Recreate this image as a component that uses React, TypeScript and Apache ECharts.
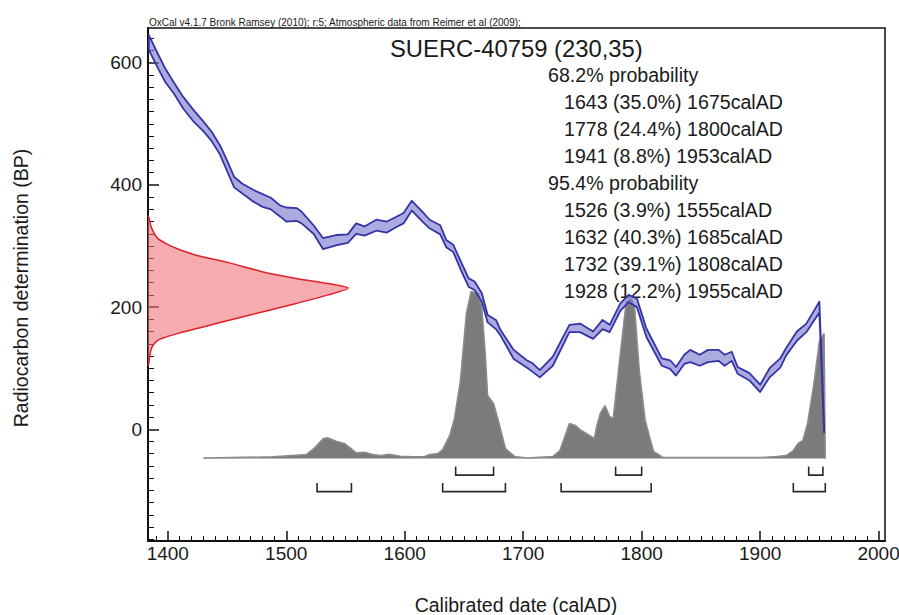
import React, { useEffect, useRef } from "react";
import * as echarts from "echarts";

const FONT = '"Liberation Sans", Arial, Helvetica, sans-serif';
const TEXT = "#1a1a1a";

// ---- axes ----
const X_MIN = 1383.3;
const X_MAX = 2005.4;
const Y_MIN = -182.8;
const Y_MAX = 656.8;
const xMajorTicks = [1400, 1500, 1600, 1700, 1800, 1900, 2000];
const xMinorTicks = [1390, 1410, 1420, 1430, 1440, 1450, 1460, 1470, 1480, 1490, 1510, 1520, 1530, 1540, 1550, 1560, 1570, 1580, 1590, 1610, 1620, 1630, 1640, 1650, 1660, 1670, 1680, 1690, 1710, 1720, 1730, 1740, 1750, 1760, 1770, 1780, 1790, 1810, 1820, 1830, 1840, 1850, 1860, 1870, 1880, 1890, 1910, 1920, 1930, 1940, 1950, 1960, 1970, 1980, 1990];
const yMajorTicks = [0, 200, 400, 600];
const yMinorTicks = [-180, -160, -140, -120, -100, -80, -60, -40, -20, 20, 40, 60, 80, 100, 120, 140, 160, 180, 220, 240, 260, 280, 300, 320, 340, 360, 380, 420, 440, 460, 480, 500, 520, 540, 560, 580, 620, 640];

// ---- calibration curve (1 sigma band, BP) ----
const curveYears = [1384, 1392, 1398, 1405, 1413, 1422, 1430, 1437, 1444, 1450, 1456, 1463, 1472, 1480, 1487, 1495, 1500, 1509, 1513, 1523, 1531, 1542, 1552, 1559, 1566, 1576, 1585, 1593, 1599, 1606, 1615, 1621, 1630, 1635, 1641, 1648, 1654, 1659, 1665, 1670, 1677, 1681, 1692, 1703, 1708, 1714, 1725, 1739, 1748, 1759, 1767, 1773, 1782, 1789, 1796, 1804, 1817, 1824, 1829, 1836, 1841, 1849, 1856, 1865, 1870, 1876, 1881, 1891, 1900, 1908, 1917, 1922, 1931, 1939, 1950, 1954];
const curveUpper = [645, 613, 590, 568, 544, 522, 504, 487, 465, 440, 413, 402, 392, 385, 379, 366, 363, 362, 356, 334, 313, 318, 319, 337, 332, 343, 340, 348, 354, 374, 356, 343, 334, 310, 302, 272, 247, 242, 223, 187, 179, 162, 130, 113, 108, 97, 119, 171, 173, 160, 179, 171, 206, 220, 214, 165, 116, 113, 102, 122, 130, 122, 130, 130, 122, 127, 102, 92, 73, 100, 116, 133, 160, 173, 209, 5];
const curveLower = [621, 590, 568, 550, 525, 503, 488, 472, 450, 423, 396, 386, 373, 364, 360, 348, 340, 341, 337, 320, 295, 301, 305, 320, 317, 325, 322, 331, 337, 358, 340, 329, 319, 298, 290, 258, 233, 228, 209, 175, 164, 153, 115, 101, 94, 85, 104, 159, 159, 148, 164, 159, 194, 208, 200, 151, 104, 99, 88, 107, 110, 104, 110, 112, 104, 112, 91, 80, 61, 85, 101, 121, 145, 159, 191, -5];

// ---- calibrated probability distribution (relative, peak = 100) ----
const probYears = [1430, 1489, 1517, 1524, 1531, 1535, 1542, 1549, 1554, 1559, 1566, 1573, 1580, 1587, 1596, 1607, 1616, 1621, 1628, 1632, 1638, 1642, 1647, 1652, 1656, 1662, 1665, 1668, 1670, 1675, 1679, 1685, 1693, 1703, 1725, 1731, 1739, 1744, 1749, 1756, 1760, 1762, 1765, 1769, 1773, 1776, 1782, 1787, 1791, 1794, 1798, 1803, 1810, 1818, 1860, 1900, 1914, 1922, 1928, 1932, 1936, 1940, 1945, 1950, 1954, 1955];
const probValues = [0.3, 1, 2.4, 6.4, 11.8, 12.4, 10.4, 9, 6.4, 3.4, 3.8, 2.4, 1.8, 2.6, 1.4, 1, 1, 2.4, 3, 5.4, 13.8, 24, 46.7, 86.8, 100, 98.8, 91, 62.9, 37.7, 32.9, 22.8, 6, 1.2, 0.3, 1.2, 4.8, 21, 19.8, 16.8, 13.8, 12, 19.2, 26.9, 31.7, 25.1, 24, 62.9, 94, 95.8, 91, 52.7, 22.8, 4.2, 0.6, 0.6, 0.6, 1.2, 1.8, 4.8, 9, 10.8, 21, 43.1, 70.1, 74.9, 0];

// ---- radiocarbon determination (BP vs relative density, peak = 100) ----
const redBP = [350, 345, 333, 321, 312, 304, 295, 285, 272, 258, 247, 239, 231, 220, 206, 192, 179, 168, 157, 150, 146, 138, 130, 118, 108, 104];
const redDensity = [0, 0.6, 1.4, 3, 5, 9, 15, 24, 41, 57, 74, 89, 100, 90, 74, 57, 41, 28, 15, 8, 5, 2.6, 1.5, 0.8, 0.4, 0];

// ---- ranges ----
const range68 = [[1643, 1675], [1778, 1800], [1941, 1953]];
const pct68 = [35.0, 24.4, 8.8];
const range95 = [[1526, 1555], [1632, 1685], [1732, 1808], [1928, 1955]];
const pct95 = [3.9, 40.3, 39.1, 12.2];

const headerText = "OxCal v4.1.7 Bronk Ramsey (2010); r:5; Atmospheric data from Reimer et al (2009);";
const titleText = "SUERC-40759 (230,35)";
const xTitle = "Calibrated date (calAD)";
const yTitle = "Radiocarbon determination (BP)";

function rangeLine(r: number[], p: number) {
  return `${r[0]} (${p.toFixed(1)}%) ${r[1]}calAD`;
}

export default function App() {
  const ref = useRef<HTMLDivElement>(null);
  useEffect(() => {
    if (!ref.current) return;
    const chart = echarts.init(ref.current, null, { renderer: "svg" });

    const lines: { text: string; indent: boolean }[] = [];
    lines.push({ text: "68.2% probability", indent: false });
    range68.forEach((r, i) => lines.push({ text: rangeLine(r, pct68[i]), indent: true }));
    lines.push({ text: "95.4% probability", indent: false });
    range95.forEach((r, i) => lines.push({ text: rangeLine(r, pct95[i]), indent: true }));

    const textEls: any[] = lines.map((l, i) => ({
      type: "text",
      x: l.indent ? 564 : 548,
      y: 74.5 + i * 27.0,
      style: {
        text: l.text, fontSize: 19.6, fontFamily: FONT, fill: TEXT,
        textAlign: "left", textVerticalAlign: "middle", align: "left", verticalAlign: "middle",
      },
    }));

    const bracketData = range68.map((r) => [r[0], r[1], 0]).concat(range95.map((r) => [r[0], r[1], 1]));

    const minorAxisCommon = { axisLabel: { show: false }, splitLine: { show: false } };

    const option: any = {
      animation: false,
      backgroundColor: "#ffffff",
      grid: {
        left: 148, top: 28, width: 737, height: 513, containLabel: false, outerBoundsMode: "none",
        show: true, borderColor: "#111", borderWidth: 1.5, backgroundColor: "transparent",
      },
      xAxis: [
        {
          type: "value", min: X_MIN, max: X_MAX, position: "bottom",
          axisLine: { show: true, onZero: false, lineStyle: { color: "#111", width: 2 } },
          axisTick: { show: true, inside: true, length: 10, customValues: xMajorTicks, lineStyle: { color: "#111", width: 1.5 } },
          axisLabel: { show: true, customValues: xMajorTicks, margin: 3, fontSize: 19, fontFamily: FONT, color: TEXT, formatter: (v: number) => String(v) },
          splitLine: { show: false },
        },
        {
          type: "value", min: X_MIN, max: X_MAX, position: "bottom",
          axisLine: { show: false, onZero: false },
          axisTick: { show: true, inside: true, length: 5, customValues: xMinorTicks, lineStyle: { color: "#111", width: 1 } },
          ...minorAxisCommon,
        },
        { type: "value", min: 0, max: 368, show: false, axisLine: { onZero: false }, splitLine: { show: false } },
      ],
      yAxis: [
        {
          type: "value", min: Y_MIN, max: Y_MAX, position: "left",
          axisLine: { show: true, onZero: false, lineStyle: { color: "#111", width: 2 } },
          axisTick: { show: true, inside: true, length: 11, customValues: yMajorTicks, lineStyle: { color: "#111", width: 1.5 } },
          axisLabel: { show: true, customValues: yMajorTicks, margin: 6, fontSize: 19, fontFamily: FONT, color: TEXT, formatter: (v: number) => String(v) },
          splitLine: { show: false },
        },
        {
          type: "value", min: Y_MIN, max: Y_MAX, position: "left",
          axisLine: { show: false, onZero: false },
          axisTick: { show: true, inside: true, length: 6, customValues: yMinorTicks, lineStyle: { color: "#111", width: 1 } },
          ...minorAxisCommon,
        },
        { type: "value", min: -49.4, max: 257.8, show: false, axisLine: { onZero: false }, splitLine: { show: false } },
      ],
      series: [
        {
          type: "custom", name: "measurement", xAxisIndex: 2, yAxisIndex: 0, z: 2,
          data: [[redDensity[0], redBP[0]]],
          renderItem: (_p: any, api: any) => {
            const pts = redBP.map((b, i) => api.coord([redDensity[i], b]));
            return {
              type: "group",
              children: [
                { type: "polygon", shape: { points: pts, smooth: 0.25 }, style: { fill: "rgba(240,110,118,0.58)", stroke: "none" } },
                { type: "polyline", shape: { points: pts, smooth: 0.25 }, style: { fill: "none", stroke: "#e2202a", lineWidth: 1.5 } },
              ],
            };
          },
        },
        {
          type: "line", name: "posterior", xAxisIndex: 0, yAxisIndex: 2, z: 3,
          data: probYears.map((y, i) => [y, probValues[i]]),
          symbol: "none", smooth: false,
          lineStyle: { color: "#8c8c8c", width: 1.5 },
          areaStyle: { color: "#7b7b7b", opacity: 1 },
        },
        {
          type: "custom", name: "curve", xAxisIndex: 0, yAxisIndex: 0, z: 4,
          data: [[curveYears[0], curveUpper[0]]],
          renderItem: (_p: any, api: any) => {
            const up = curveYears.map((y, i) => api.coord([y, curveUpper[i]]));
            const lo = curveYears.map((y, i) => api.coord([y, curveLower[i]])).reverse();
            return {
              type: "polygon",
              shape: { points: up.concat(lo) },
              style: { fill: "rgba(120,120,205,0.62)", stroke: "#3434a6", lineWidth: 1.8, lineJoin: "round" },
            };
          },
        },
        {
          type: "custom", name: "ranges", xAxisIndex: 0, yAxisIndex: 0, z: 5,
          data: bracketData,
          encode: { x: [0, 1] },
          renderItem: (_p: any, api: any) => {
            const lvl = api.value(2);
            const base = lvl === 0 ? -75 : -102;
            const tip = lvl === 0 ? -61 : -88;
            const a = api.coord([api.value(0), base]);
            const b = api.coord([api.value(1), base]);
            const at = api.coord([api.value(0), tip]);
            const bt = api.coord([api.value(1), tip]);
            return {
              type: "polyline",
              shape: { points: [at, a, b, bt] },
              style: { fill: "none", stroke: "#2a2a2a", lineWidth: 1.6 },
            };
          },
        },
      ],
      graphic: [
        {
          type: "text", x: 149, y: 22,
          style: { text: headerText, fontSize: 10, fontFamily: FONT, fill: TEXT, textAlign: "left", textVerticalAlign: "middle", align: "left", verticalAlign: "middle" },
        },
        {
          type: "text", x: 390, y: 48,
          style: { text: titleText, fontSize: 23.8, fontFamily: FONT, fill: TEXT, textAlign: "left", textVerticalAlign: "middle", align: "left", verticalAlign: "middle" },
        },
        ...textEls,
        {
          type: "text", x: 516, y: 605,
          style: { text: xTitle, fontSize: 19.5, fontFamily: FONT, fill: TEXT, textAlign: "center", textVerticalAlign: "middle", align: "center", verticalAlign: "middle" },
        },
        {
          type: "text", x: 21, y: 288, rotation: Math.PI / 2,
          style: { text: yTitle, fontSize: 19.5, fontFamily: FONT, fill: TEXT, textAlign: "center", textVerticalAlign: "middle", align: "center", verticalAlign: "middle" },
        },
      ],
    };
    chart.setOption(option);
    return () => chart.dispose();
  }, []);

  return (
    <div
      ref={ref}
      style={{ position: "fixed", left: 0, top: 0, width: 899, height: 615, background: "#fff" }}
    />
  );
}
